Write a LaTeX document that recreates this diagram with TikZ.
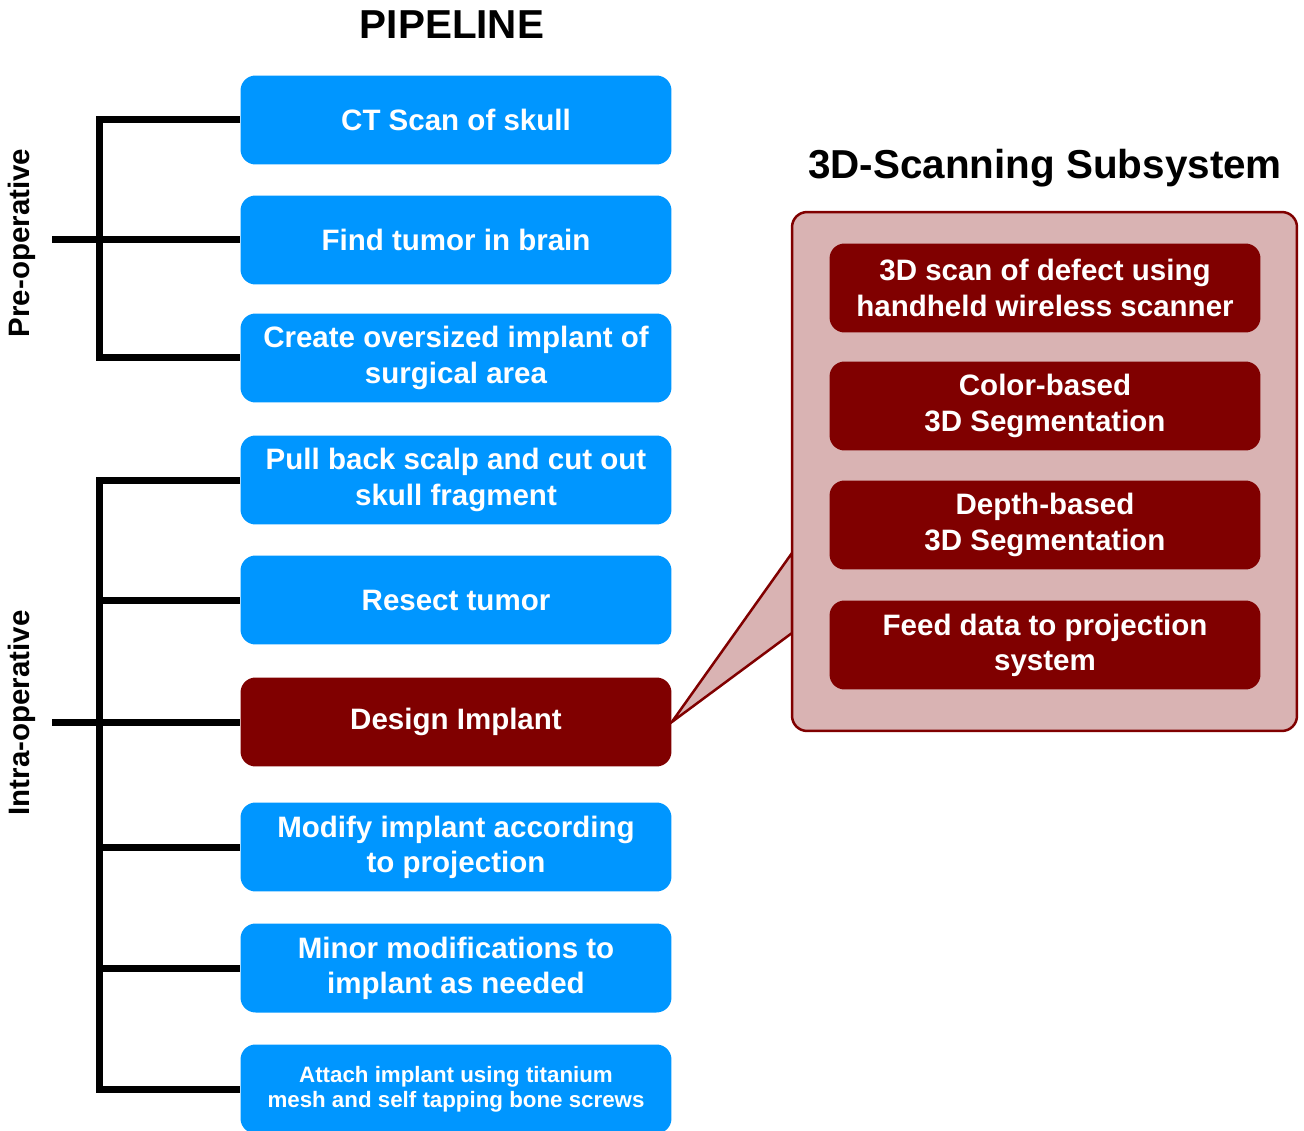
\documentclass[tikz,border=0pt]{standalone}
\usepackage{fontspec}
\setmainfont{Liberation Sans}
\usetikzlibrary{positioning}

\definecolor{pipeblue}{RGB}{0, 150, 255}
\definecolor{darkmaroon}{RGB}{128, 0, 0}
\definecolor{callpink}{RGB}{217, 179, 179}

\tikzset{
	stage/.style = {fill=pipeblue, text=white, rounded corners=0.3cm, minimum width=8.62cm, minimum height=1.78cm, align=center, inner sep=0pt, font=\bfseries\fontsize{16.8}{20}\selectfont},
	hotstage/.style = {stage, fill=darkmaroon},
	substage/.style = {hotstage},
	brace/.style = {line width=0.14cm, black},
	callout/.style = {draw=darkmaroon, fill=callpink, line width=0.05cm, rounded corners=0.3cm}
}

\begin{document}
\begin{tikzpicture}[x=0.02cm, y=-0.02cm]
	\useasboundingbox (0,0) rectangle (1304,1131);

	% titles
	\node[font=\bfseries\fontsize{23}{28}\selectfont] (pipetitle) at (452,25) {PIPELINE};
	\node[font=\bfseries\fontsize{23}{28}\selectfont] (subtitle) at (1045,168) {3D-Scanning Subsystem};

	% pipeline
	\node[stage] (ct) at (456,120) {CT Scan of skull};
	\node[stage] (tumor) at (456,240) {Find tumor in brain};
	\node[stage] (oversize) at (456,358) {Create oversized implant of\\surgical area};
	\node[stage] (scalp) at (456,480) {Pull back scalp and cut out\\skull fragment};
	\node[stage] (resect) at (456,600) {Resect tumor};
	\node[hotstage] (design) at (456,722) {Design Implant};
	\node[stage] (modify) at (456,847) {Modify implant according\\to projection};
	\node[stage] (minor) at (456,968) {Minor modifications to\\implant as needed};
	\node[stage, font=\bfseries\fontsize{12.7}{14.2}\selectfont] (attach) at (456,1089) {Attach implant using titanium\\mesh and self tapping bone screws};

	% brackets
	\coordinate (prejoin) at (52,240);
	\coordinate (intrajoin) at (52,722);
	\draw[brace] (ct.west) -- ++(-141,0) |- (oversize.west);
	\draw[brace] (prejoin) -- (tumor.west);
	\draw[brace] (scalp.west) -- ++(-141,0) |- (attach.west);
	\draw[brace] (100,600) -- (resect.west);
	\draw[brace] (intrajoin) -- (design.west);
	\draw[brace] (100,847) -- (modify.west);
	\draw[brace] (100,968) -- (minor.west);

	\node[rotate=90, font=\bfseries\fontsize{16.8}{20}\selectfont] (prelabel) at (22,243) {Pre-operative};
	\node[rotate=90, font=\bfseries\fontsize{16.8}{20}\selectfont] (intralabel) at (22,713) {Intra-operative};

	% subsystem callout
	\coordinate (calltop) at (792,553);
	\coordinate (callbot) at (792,633);
	\draw[callout, rounded corners=0pt] (design.east) -- (calltop) -- (callbot) -- cycle;
	\node[callout, minimum width=10.1cm, minimum height=10.38cm, inner sep=0pt] (sub) at (1044.5,471.5) {};

	\node[substage] (scan) at (1045,288) {3D scan of defect using\\handheld wireless scanner};
	\node[substage] (color) at (1045,406) {Color-based\\3D Segmentation};
	\node[substage] (depth) at (1045,525) {Depth-based\\3D Segmentation};
	\node[substage] (feed) at (1045,645) {Feed data to projection\\system};
\end{tikzpicture}
\end{document}
